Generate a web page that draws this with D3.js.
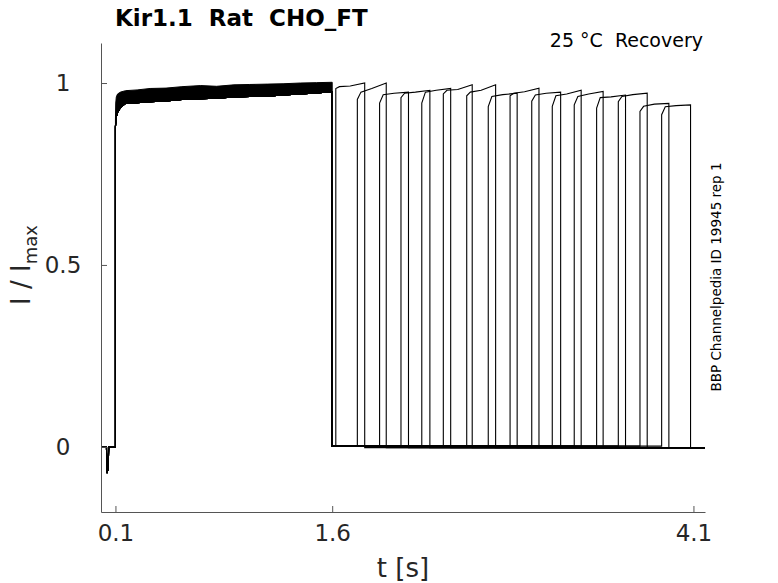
<!DOCTYPE html>
<html>
<head>
<meta charset="utf-8">
<script src="https://cdn.jsdelivr.net/npm/d3@7"></script>
<style>
    body { margin: 0; background: #fff; }
    #chart { width: 778px; height: 583px; }
    text { font-family: "DejaVu Sans", sans-serif; white-space: pre; }
</style>
</head>
<body>
<div id="chart"></div>
<script>
// values

const xTicks = [0.1, 1.6, 4.1];
const xTickLabels = ["0.1", "1.6", "4.1"];
const yTicks = [0, 0.5, 1];
const yTickLabels = ["0", "0.5", "1"];

// holding level before the first step, with the capacitive dip
const preTime = [0, 0.038, 0.040, 0.050, 0.053, 0.1];
const preValue = [0, 0, -0.072, -0.060, 0, 0];

// first pulse: envelope of all overlapping sweeps
const bandTime = [0.100, 0.102, 0.106, 0.115, 0.135, 0.170, 0.250, 0.340, 0.450, 0.560, 0.690, 0.800, 0.920, 1.030, 1.150, 1.260, 1.380, 1.490, 1.600];
const bandUpper = [0.900, 0.945, 0.962, 0.970, 0.975, 0.979, 0.981, 0.985, 0.986, 0.990, 0.993, 0.991, 0.995, 0.996, 0.997, 0.998, 1.000, 1.001, 1.002];
const bandLower = [0.880, 0.893, 0.908, 0.920, 0.933, 0.944, 0.946, 0.949, 0.951, 0.955, 0.957, 0.958, 0.962, 0.963, 0.964, 0.967, 0.970, 0.973, 0.976];

// second pulse of every sweep
const pulseStart = [1.625, 1.774, 1.928, 2.076, 2.220, 2.369, 2.531, 2.680, 2.831, 2.981, 3.123, 3.275, 3.430, 3.580, 3.730, 3.880];
const pulseOnset = [0.985, 0.955, 0.945, 0.960, 0.945, 0.970, 0.965, 0.935, 0.965, 0.950, 0.936, 0.940, 0.931, 0.949, 0.922, 0.913];
const pulsePlateau = [0.990, 0.975, 0.968, 0.972, 0.975, 0.980, 0.975, 0.963, 0.972, 0.967, 0.965, 0.963, 0.960, 0.963, 0.936, 0.935];
const pulseMid = [0.992, 0.985, 0.972, 0.975, 0.980, 0.982, 0.980, 0.968, 0.976, 0.972, 0.970, 0.970, 0.962, 0.968, 0.942, 0.938];
const pulseEnd = [1.000, 1.000, 0.975, 0.980, 0.985, 0.995, 0.995, 0.972, 0.986, 0.975, 0.980, 0.977, 0.967, 0.972, 0.944, 0.940];
const pulseDuration = 0.2;

const gapLevel = 0.002;
const tailLevel = -0.002;
const sweepEnd = 4.18;

document.addEventListener('DOMContentLoaded', () => {
    drawChart();
});

function drawChart() {
    const width = 778;
    const height = 583;
    const margin = { top: 43, right: 73, bottom: 71, left: 101 };

    const x = d3.scaleLinear()
        .domain([0, sweepEnd])
        .range([margin.left, width - margin.right]);

    const y = d3.scaleLinear()
        .domain([-0.179, 1.11])
        .range([height - margin.bottom, margin.top]);

    const svg = d3.select("#chart")
        .append("svg")
        .attr("width", width)
        .attr("height", height);

    // build one polyline per sweep
    const sweeps = pulseStart.map((start, i) => {
        const pts = preTime.map((t, j) => [t, preValue[j]]);
        bandTime.forEach((t, j) => pts.push([t, bandLower[j]]));
        pts.push([1.6, gapLevel]);
        pts.push([start, gapLevel]);
        pts.push([start, pulseOnset[i]]);
        pts.push([start + 0.025, pulsePlateau[i]]);
        pts.push([start + 0.1, pulseMid[i]]);
        pts.push([start + pulseDuration, pulseEnd[i]]);
        pts.push([start + pulseDuration, tailLevel]);
        pts.push([sweepEnd, tailLevel]);
        return pts;
    });

    const line = d3.line()
        .x(d => x(d[0]))
        .y(d => y(d[1]));

    const area = d3.area()
        .x((d, i) => x(bandTime[i]))
        .y0((d, i) => y(bandLower[i]))
        .y1((d, i) => y(bandUpper[i]));

    svg.append("path")
        .datum(bandTime)
        .attr("d", area)
        .attr("fill", "#000")
        .attr("stroke", "#000")
        .attr("stroke-width", 1);

    svg.append("g")
        .selectAll("path")
        .data(sweeps)
        .join("path")
        .attr("d", line)
        .attr("fill", "none")
        .attr("stroke", "#000")
        .attr("stroke-width", 1.1);

    // axes
    const xAxis = d3.axisBottom(x)
        .tickValues(xTicks)
        .tickFormat((d, i) => xTickLabels[i])
        .tickSizeInner(-6)
        .tickSizeOuter(0)
        .tickPadding(13);

    const yAxis = d3.axisLeft(y)
        .tickValues(yTicks)
        .tickFormat((d, i) => yTickLabels[i])
        .tickSizeInner(-6)
        .tickSizeOuter(0);

    const gx = svg.append("g")
        .attr("transform", `translate(0,${height - margin.bottom})`)
        .call(xAxis);

    const gy = svg.append("g")
        .attr("transform", `translate(${margin.left},0)`)
        .call(yAxis);

    [gx, gy].forEach(g => {
        g.select(".domain").attr("stroke", "#555");
        g.selectAll(".tick line").attr("stroke", "#555");
        g.selectAll(".tick text")
            .attr("fill", "#262626")
            .style("font-size", "23px")
            .style("font-family", "DejaVu Sans, sans-serif");
    });

    gy.selectAll(".tick text")
        .attr("text-anchor", "middle")
        .attr("x", -38);

    // labels
    svg.append("text")
        .attr("x", 115)
        .attr("y", 26)
        .attr("font-size", 23)
        .attr("font-weight", "bold")
        .attr("fill", "#000")
        .text("Kir1.1  Rat  CHO_FT");

    svg.append("text")
        .attr("x", 703)
        .attr("y", 47)
        .attr("text-anchor", "end")
        .attr("font-size", 19)
        .attr("fill", "#000")
        .text("25 °C  Recovery");

    svg.append("text")
        .attr("x", 403)
        .attr("y", 577)
        .attr("text-anchor", "middle")
        .attr("font-size", 26)
        .attr("fill", "#262626")
        .text("t [s]");

    const ylab = svg.append("text")
        .attr("transform", "translate(30,265) rotate(-90)")
        .attr("text-anchor", "middle")
        .attr("font-size", 26)
        .attr("fill", "#262626");
    ylab.append("tspan").text("I / I");
    ylab.append("tspan")
        .attr("font-size", 18)
        .attr("dy", 7)
        .text("max");

    svg.append("text")
        .attr("transform", "translate(721,277) rotate(-90)")
        .attr("text-anchor", "middle")
        .attr("font-size", 13.5)
        .attr("fill", "#000")
        .text("BBP Channelpedia ID 19945 rep 1");
}
</script>
</body>
</html>
